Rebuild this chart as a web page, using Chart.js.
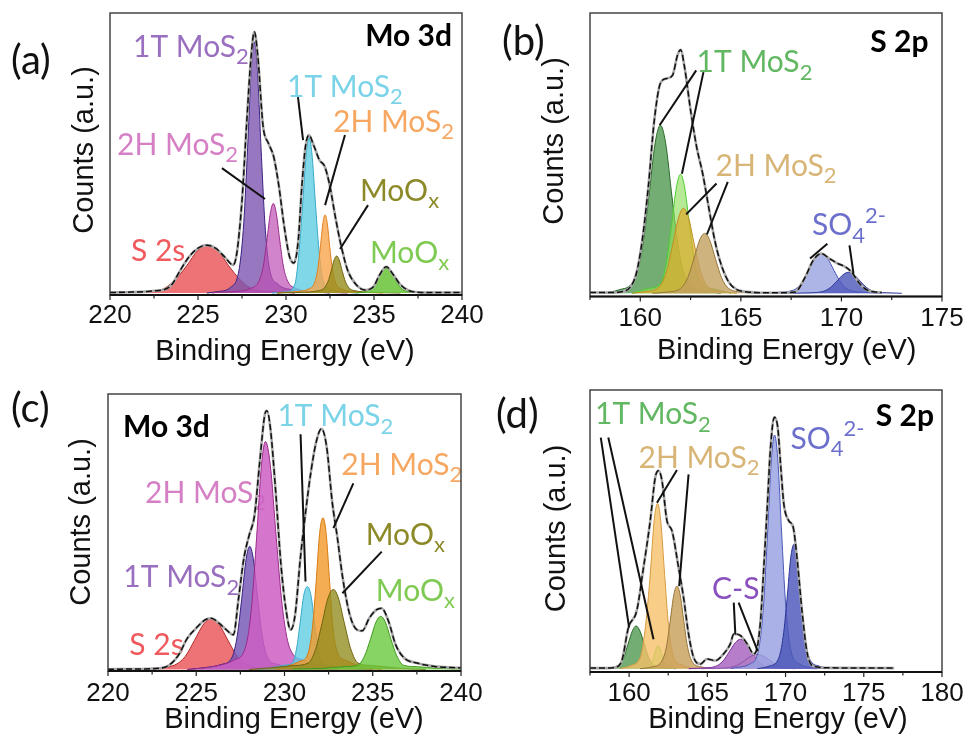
<!DOCTYPE html>
<html>
<head>
<meta charset="utf-8">
<script src="https://cdn.jsdelivr.net/npm/chart.js@4.4.0/dist/chart.umd.min.js"></script>
<style>
  html, body { margin: 0; padding: 0; background: #fff; overflow: hidden; }
  body { width: 963px; height: 744px; position: relative; }
  canvas { position: absolute; }
</style>
</head>
<body>
<canvas id="pa" width="520" height="372" style="left:0;top:0;width:520px;height:372px"></canvas>
<canvas id="pb" width="500" height="372" style="left:480px;top:0;width:500px;height:372px"></canvas>
<canvas id="pc" width="520" height="372" style="left:0;top:372px;width:520px;height:372px"></canvas>
<canvas id="pd" width="500" height="372" style="left:480px;top:372px;width:500px;height:372px"></canvas>
<script>
// ---- data: [binding energy (eV), counts (a.u.)] ----

// (a) Mo 3d
const a_fit = [[220,0.2],[221,0.3],[222,0.5],[222.5,0.8],[223,1.1],[223.5,2.9],[224,8.2],[224.5,13],[225,16],[225.5,17.1],[226,16],[226.5,13],[227,10],[227.2,14],[227.5,33],[227.75,59],[228,83],[228.2,93.3],[228.4,84.4],[228.7,59.4],[229,53.5],[229.3,48.7],[229.6,38],[229.9,23.7],[230.2,13],[230.45,10.7],[230.7,19],[230.9,38],[231.1,52],[231.3,56.4],[231.6,52.3],[231.9,47.5],[232.2,45.2],[232.5,38],[232.8,27.3],[233.1,17.8],[233.5,8.2],[234,2.9],[234.5,1.1],[235,2.5],[235.3,6.3],[235.7,9.4],[236.1,6.5],[236.5,3],[237,0.8],[237.5,0.3],[238,0.2],[240,0.2]];
const a_S2s = [[220.5,0],[221.2,0.3],[222.85,1.1],[223.65,4.4],[224.35,9.7],[225.0,15.3],[225.55,17.1],[226.1,15.3],[226.75,9.7],[227.45,4.4],[228.25,1.1],[229.9,0.3],[230.5,0]];
const a_1T_52 = [[225.5,0],[226.1,0.5],[226.84,2],[227.35,9],[227.6,25.1],[227.82,52],[228.03,80.7],[228.2,89.7],[228.37,80.7],[228.58,52],[228.8,25.1],[229.05,9],[229.56,3.1],[230.3,1.2],[231.6,0.4],[232.5,0]];
const a_2H_52 = [[225.8,0],[226.0,0.2],[227.23,0.6],[227.97,1.6],[228.46,4.2],[228.71,9.6],[228.91,18.6],[229.12,28.8],[229.28,32],[229.44,28.8],[229.65,18.6],[229.85,9.6],[230.1,4.2],[230.59,1.6],[231.33,0.6],[232.56,0.2],[233.5,0]];
const a_1T_32 = [[229.2,0],[230.03,0.5],[230.51,3.3],[230.75,15.5],[230.95,32.2],[231.15,50],[231.31,55.5],[231.47,50],[231.67,32.2],[231.87,15.5],[232.11,4.5],[232.59,1.2],[233.31,0.4],[234,0]];
const a_2H_32 = [[229.5,0],[229.82,0.2],[230.72,0.6],[231.26,1.4],[231.62,3.6],[231.8,8.4],[231.95,16.2],[232.1,25.1],[232.22,27.9],[232.34,25.1],[232.49,16.2],[232.64,8.4],[232.82,3.6],[233.18,1.4],[233.72,0.6],[234.62,0.2],[235.5,0]];
const a_MoOx1 = [[229.5,0],[230.0,0.1],[231.08,0.3],[231.73,0.7],[232.16,1.7],[232.38,4.0],[232.56,7.7],[232.74,11.9],[232.88,13.2],[233.02,11.9],[233.2,7.7],[233.38,4.0],[233.6,1.7],[234.03,0.7],[234.68,0.3],[235.76,0.1],[236.5,0]];
const a_MoOx2 = [[234.0,0],[234.6,0.7],[234.93,2.3],[235.2,5.1],[235.48,8.0],[235.7,8.9],[235.92,8.0],[236.2,5.1],[236.47,2.3],[236.8,0.7],[237.46,0.2],[238.2,0]];

// (b) S 2p
const b_fit = [[157.5,0.3],[158.5,0.3],[159,0.5],[159.5,2.2],[159.8,7],[160.1,19],[160.4,38],[160.7,62],[161,75],[161.3,76.7],[161.6,77.8],[161.85,85],[162,87],[162.2,80.8],[162.5,65.4],[162.8,52.3],[163.1,42.8],[163.4,30.8],[163.7,19],[164,10.7],[164.4,4],[164.8,1.3],[165.3,0.5],[166,0.2],[167,0.2],[167.7,0.5],[168.2,5.8],[168.6,11.8],[169,14.2],[169.4,12.4],[169.8,10.7],[170.2,9.4],[170.5,7.6],[170.9,3.5],[171.3,1.1],[171.8,0.4],[172,0.3]];
const b_1T_a = [[158.2,0],[158.92,1.2],[159.7,4.8],[160.09,15.6],[160.42,34.2],[160.74,53.7],[161.0,60],[161.26,53.7],[161.58,34.2],[161.91,15.6],[162.3,4.8],[163.08,1.2],[164,0]];
const b_1T_b = [[159.6,0],[160.4,1.7],[161.0,3.4],[161.3,11],[161.55,24.2],[161.8,38],[162.0,42.5],[162.2,38],[162.45,24.2],[162.7,11],[163.0,3.4],[163.6,1.7],[164.5,0]];
const b_2H_a = [[159.6,0],[160.23,0.6],[160.95,2.4],[161.31,7.9],[161.61,17.3],[161.91,27.2],[162.15,30.4],[162.39,27.2],[162.69,17.3],[162.99,7.9],[163.35,2.4],[164.07,0.6],[164.8,0]];
const b_2H_b = [[160.6,0],[161.28,0.4],[162.0,1.7],[162.36,5.6],[162.66,12.2],[162.96,19.2],[163.2,21.4],[163.44,19.2],[163.74,12.2],[164.04,5.6],[164.4,1.7],[165.12,0.4],[165.8,0]];
const b_SO4_a = [[166.5,0],[166.76,0.3],[167.6,1.1],[168.02,3.7],[168.37,8.2],[168.72,12.8],[169.0,14.3],[169.28,12.8],[169.63,8.2],[169.98,3.7],[170.4,1.1],[171.24,0.3],[172,0]];
const b_SO4_b = [[167.6,0],[168.27,0.15],[169.05,0.6],[169.44,2.0],[169.77,4.3],[170.09,6.7],[170.35,7.5],[170.61,6.7],[170.94,4.3],[171.26,2.0],[171.65,0.6],[172.43,0.15],[173,0]];

// (c) Mo 3d
const c_fit = [[220,0.1],[222,0.2],[223,0.5],[223.5,1.7],[224,5.2],[224.5,11.2],[225,14.8],[225.5,17.7],[225.85,18.3],[226.3,16.5],[226.7,14.2],[227.1,12.4],[227.4,25.5],[227.7,39.8],[228,48],[228.3,55],[228.6,74.3],[228.9,91.5],[229,92.4],[229.2,86.2],[229.5,63.6],[229.8,37.4],[230.1,20.7],[230.35,14.2],[230.6,19.5],[230.9,39.8],[231.2,56.4],[231.5,70.7],[231.8,81.4],[232.1,86],[232.4,79],[232.7,60],[233,46.9],[233.3,32.6],[233.7,19.5],[234.1,14.2],[234.4,13.8],[234.8,18.3],[235.2,21.3],[235.5,21.9],[235.9,17.1],[236.3,8.8],[236.8,4],[237.5,2.3],[238.5,1.1],[239.5,0.7],[240,0.6]];
const c_S2s = [[221.3,0],[222.49,0.4],[223.75,1.5],[224.38,4.7],[224.9,10.4],[225.43,16.3],[225.85,18.2],[226.27,16.3],[226.8,10.4],[227.32,4.7],[227.95,1.5],[229.21,0.4],[230.5,0]];
const c_1T_52 = [[224.5,0],[225.53,0.7],[226.43,1.8],[227.03,4.4],[227.33,12.3],[227.58,25.5],[227.83,39.6],[228.03,44],[228.23,39.6],[228.48,25.5],[228.73,12.3],[229.03,4.4],[229.63,1.8],[230.53,0.7],[232,0.2],[233,0]];
const c_2H_52 = [[224.5,0],[226.1,1.2],[227.12,3.3],[227.8,8.1],[228.14,22.8],[228.42,47.2],[228.7,73.3],[228.92,81.4],[229.19,73.3],[229.53,47.2],[229.87,22.8],[230.27,8.1],[231.08,3.3],[232.32,1.2],[234,0.3],[235,0]];
const c_1T_32 = [[228.5,0],[229.25,0.6],[229.97,1.5],[230.45,2.4],[230.69,7.7],[230.89,16.9],[231.09,26.5],[231.3,29.6],[231.5,26.5],[231.7,16.9],[231.9,7.7],[232.1,2.4],[232.53,1.5],[233.25,0.6],[234.5,0]];
const c_2H_32 = [[229.5,0],[230.15,1.1],[230.87,2.9],[231.3,5.2],[231.57,14.1],[231.79,31],[231.99,48.6],[232.18,54.2],[232.36,48.6],[232.56,31],[232.76,14.1],[233.05,5.4],[233.5,3.2],[234.2,1.4],[235.5,0]];
const c_MoOx1 = [[228,0],[229.25,0.6],[230.51,1.4],[231.35,2.3],[231.77,7.4],[232.12,16.3],[232.47,25.6],[232.77,28.6],[233.05,25.6],[233.4,16.3],[233.75,7.4],[234.17,2.3],[235.0,1.4],[236.25,0.6],[238,0]];
const c_MoOx2 = [[230.45,0.2],[232.2,0.4],[233.37,1.0],[234.15,1.5],[234.54,4.9],[234.87,10.8],[235.19,17],[235.45,19],[235.71,17],[236.03,10.8],[236.36,4.9],[236.75,1.5],[237.53,1.0],[238.7,0.4],[240,0.2]];

// (d) S 2p
const d_fit = [[157.5,0.2],[158.5,0.2],[159,0.35],[159.5,2.2],[159.96,14.5],[160.49,20.4],[160.92,35.5],[161.35,51.9],[161.67,67.1],[161.88,69.5],[162.1,66],[162.42,51.9],[162.74,48.4],[163.16,35.5],[163.48,25],[163.8,12.2],[164.12,4],[164.55,1.6],[164.98,3.4],[165.51,2.8],[166.04,5.2],[166.47,8.7],[166.69,12.2],[167.12,11.6],[167.55,8.7],[167.97,5.2],[168.19,7.5],[168.4,16.8],[168.61,35.5],[168.83,56.6],[169.04,77.6],[169.29,88.2],[169.5,84.7],[169.68,71.8],[169.89,57.8],[170.21,51.9],[170.49,49.6],[170.75,37.9],[171.07,19.2],[171.39,5.2],[171.82,0.8],[172.88,0.3],[176.94,0.2]];
const d_1T_a = [[158.0,0],[158.61,0.3],[159.3,1.2],[159.65,3.9],[159.93,8.6],[160.22,13.4],[160.45,15],[160.68,13.4],[160.97,8.6],[161.25,3.9],[161.6,1.2],[162.29,0.3],[163,0]];
const d_1T_b = [[160.8,0],[160.97,0.2],[161.3,0.6],[161.47,2.1],[161.6,4.6],[161.74,7.2],[161.85,8],[161.96,7.2],[162.1,4.6],[162.24,2.1],[162.4,0.6],[162.73,0.2],[162.9,0]];
const d_2H_a = [[159.4,0],[160.15,1.2],[160.75,4.6],[161.05,15.1],[161.35,33],[161.6,51.9],[161.82,58],[162.02,51.9],[162.27,33],[162.52,15.1],[162.82,4.6],[163.4,1.2],[164.1,0]];
const d_2H_b = [[160.7,0],[161.45,0.6],[162.05,2.3],[162.38,7.5],[162.62,16.5],[162.86,26],[163.06,29],[163.26,26],[163.5,16.5],[163.74,7.5],[164.05,2.3],[164.65,0.6],[165.4,0]];
const d_CS_a = [[163.8,0],[164.55,0.2],[165.52,0.8],[166.0,2.7],[166.4,5.9],[166.8,9.2],[167.12,10.3],[167.44,9.2],[167.84,5.9],[168.24,2.7],[168.72,0.8],[169.7,0.2],[170.6,0]];
const d_CS_b = [[164.6,0],[165.32,0.1],[166.4,0.4],[166.94,1.3],[167.39,2.9],[167.84,4.5],[168.2,5],[168.56,4.5],[169.01,2.9],[169.46,1.3],[170.0,0.4],[171.08,0.1],[172,0]];
const d_SO4_a = [[166.5,0],[166.8,0.4],[167.7,1.6],[168.3,7.4],[168.6,23],[168.85,47.6],[169.1,73.8],[169.3,82],[169.5,73.8],[169.75,47.6],[170.0,23],[170.3,7.4],[170.9,1.6],[171.8,0.4],[172.5,0]];
const d_SO4_b = [[168.2,0],[168.95,0.9],[169.55,3.5],[169.85,11.3],[170.1,24.8],[170.33,38.9],[170.53,43.6],[170.73,38.9],[170.98,24.8],[171.23,11.3],[171.53,3.5],[172.15,0.9],[172.9,0]];

// axis ranges [min, max] and labelled tick spacing
const xRangeMo = [220, 240];
const xRangeS_b = [157.5, 175];
const xRangeS_d = [157.5, 180];
const xStep = 2.5;
const xLabelEvery = 5;
const xTitle = 'Binding Energy (eV)';
const yTitle = 'Counts (a.u.)';

const FONT_TXT = 'Lato, "Open Sans", sans-serif';
const FONT_AX = '"Liberation Sans", Arial, sans-serif';

// label text: "_x" = subscript char, "^..." = superscript rest
function drawRich(ctx, x, y, text, size, color, align, bold) {
  const parts = [];
  let cur = '';
  for (let i = 0; i < text.length; i++) {
    const ch = text[i];
    if (ch === '_') { if (cur) parts.push({ t: cur, k: 0 }); cur = ''; parts.push({ t: text[i + 1], k: 1 }); i++; continue; }
    if (ch === '^') { if (cur) parts.push({ t: cur, k: 0 }); cur = ''; parts.push({ t: text.slice(i + 1), k: 2 }); break; }
    cur += ch;
  }
  if (cur) parts.push({ t: cur, k: 0 });
  const w = bold ? 'bold ' : '';
  const fontFor = p => p.k === 0 ? `${w}${size}px ${FONT_TXT}` : `${w}${Math.round(size * 0.72)}px ${FONT_TXT}`;
  let total = 0;
  parts.forEach(p => { ctx.font = fontFor(p); p.w = ctx.measureText(p.t).width; total += p.w; });
  let cx = align === 'right' ? x - total : x;
  ctx.fillStyle = color;
  ctx.textBaseline = 'alphabetic';
  ctx.textAlign = 'left';
  parts.forEach(p => {
    ctx.font = fontFor(p);
    const dy = p.k === 1 ? size * 0.24 : p.k === 2 ? -size * 0.42 : 0;
    ctx.fillText(p.t, cx, y + dy);
    cx += p.w;
  });
}

const isMajor = v => Math.round(v * 10) % (xLabelEvery * 10) === 0;

const annot = {
  id: 'annot',
  beforeDatasetsDraw(chart, args, opts) {
    const ctx = chart.ctx, xs = chart.scales.x, ys = chart.scales.y;
    ctx.save();
    (opts.labels || []).forEach(l => {
      drawRich(ctx, xs.getPixelForValue(l.x), ys.getPixelForValue(l.y), l.t, l.size || 30, l.c, l.align, l.bold);
    });
    ctx.restore();
  },
  afterDatasetsDraw(chart, args, opts) {
    const ctx = chart.ctx, xs = chart.scales.x, ys = chart.scales.y, a = chart.chartArea;
    ctx.save();
    ctx.strokeStyle = '#111';
    ctx.lineWidth = 2;
    (opts.lines || []).forEach(s => {
      ctx.beginPath();
      ctx.moveTo(xs.getPixelForValue(s[0]), ys.getPixelForValue(s[1]));
      ctx.lineTo(xs.getPixelForValue(s[2]), ys.getPixelForValue(s[3]));
      ctx.stroke();
    });
    // frame
    ctx.strokeStyle = '#444';
    ctx.lineWidth = 1.5;
    ctx.strokeRect(a.left, a.top, a.right - a.left, a.bottom - a.top);
    ctx.strokeStyle = '#111';
    ctx.lineWidth = 2.2;
    ctx.beginPath(); ctx.moveTo(a.left, a.bottom); ctx.lineTo(a.right, a.bottom); ctx.stroke();
    ctx.restore();
  },
  afterDraw(chart, args, opts) {
    const ctx = chart.ctx, xs = chart.scales.x, a = chart.chartArea;
    ctx.save();
    // outward ticks and tick labels from the x scale
    ctx.strokeStyle = '#222';
    ctx.lineWidth = 1.2;
    ctx.fillStyle = '#111';
    ctx.font = `26px ${FONT_AX}`;
    ctx.textAlign = 'center';
    ctx.textBaseline = 'middle';
    xs.ticks.forEach(t => {
      const px = xs.getPixelForValue(t.value);
      const major = isMajor(t.value);
      ctx.beginPath(); ctx.moveTo(px, a.bottom); ctx.lineTo(px, a.bottom + (major ? 5 : 3.5)); ctx.stroke();
      if (major) ctx.fillText(String(t.value), px, opts.tickY);
    });
    // axis titles
    ctx.font = `29px ${FONT_AX}`;
    ctx.fillText(xTitle, opts.xt[0], opts.xt[1]);
    ctx.translate(opts.yt[0], opts.yt[1]);
    ctx.rotate(-Math.PI / 2);
    ctx.fillText(yTitle, 0, 0);
    ctx.setTransform(1, 0, 0, 1, 0, 0);
    // panel letter
    ctx.font = `40px ${FONT_TXT}`;
    ctx.textAlign = 'left';
    ctx.fillText(opts.letter.t, opts.letter.x, opts.letter.y);
    ctx.restore();
  }
};

function series(data, fill, border, width) {
  return {
    data: data.map(p => ({ x: p[0], y: p[1] })),
    backgroundColor: fill,
    borderColor: border,
    borderWidth: width || 1,
    fill: fill ? 'origin' : false,
    pointRadius: 0,
    cubicInterpolationMode: 'monotone'
  };
}

function fitSeries(data) {
  const raw = series(data, null, '#a8a8a8', 2.6);
  const fit = series(data, null, '#111', 1.5);
  fit.borderDash = [6, 3];
  return [fit, raw];
}

function makeChart(id, g) {
  return new Chart(document.getElementById(id), {
    type: 'line',
    data: { datasets: fitSeries(g.fit).concat(g.comps) },
    plugins: [annot],
    options: {
      responsive: false,
      animation: false,
      events: [],
      layout: { padding: { left: 0, top: g.plot[1], right: g.size[0] - g.plot[2], bottom: 0 } },
      scales: {
        x: {
          type: 'linear',
          min: g.xr[0], max: g.xr[1],
          afterFit(s) { s.height = g.size[1] - g.plot[3]; s.paddingLeft = 0; s.paddingRight = 0; },
          grid: { display: false, drawTicks: false },
          border: { display: false },
          ticks: { stepSize: xStep, autoSkip: false, display: false }
        },
        y: {
          min: g.yr[0], max: g.yr[1],
          afterFit(s) { s.width = g.plot[0]; },
          grid: { display: false, drawTicks: false },
          border: { display: false },
          ticks: { display: false }
        }
      },
      plugins: {
        legend: { display: false },
        tooltip: { enabled: false },
        annot: { labels: g.labels, lines: g.lines, letter: g.letter, tickY: g.tickY, xt: g.xt, yt: g.yt }
      }
    }
  });
}

makeChart('pa', {
  size: [520, 372], plot: [110, 13, 462, 295], xr: xRangeMo, yr: [-0.7, 100],
  tickY: 315.5, xt: [285, 351.7], yt: [85, 150],
  fit: a_fit,
  comps: [
    series(a_MoOx2, 'rgba(105,195,55,0.85)', '#3f9a1f'),
    series(a_MoOx1, 'rgba(150,140,25,0.8)', '#6f6410'),
    series(a_2H_32, 'rgba(247,165,75,0.8)', '#e08020'),
    series(a_1T_32, 'rgba(95,205,225,0.8)', '#38a8c8'),
    series(a_2H_52, 'rgba(190,80,180,0.7)', '#9a2a8a'),
    series(a_1T_52, 'rgba(125,85,175,0.8)', '#3a2280'),
    series(a_S2s, 'rgba(235,90,95,0.85)', '#b02a2a')
  ],
  labels: [
    { x: 221.31, y: 84.3, t: '1T MoS_2', c: '#9a6fbf' },
    { x: 220.4, y: 49.3, t: '2H MoS_2', c: '#d57fc5' },
    { x: 230.06, y: 70, t: '1T MoS_2', c: '#7bd3e8' },
    { x: 232.67, y: 57.5, t: '2H MoS_2', c: '#f6a862' },
    { x: 234.2, y: 32.9, t: 'MoO_x', c: '#8c8a28' },
    { x: 234.77, y: 10.7, t: 'MoO_x', c: '#7fca52' },
    { x: 221.19, y: 11.4, t: 'S 2s', c: '#f05a5e' },
    { x: 239.43, y: 88.2, t: 'Mo 3d', c: '#000', align: 'right', bold: true }
  ],
  lines: [[226.36, 44.6, 228.81, 33.6], [230.68, 70, 230.97, 54.6], [233.35, 56.4, 232.22, 31.4], [234.66, 31.4, 233.07, 15.7]],
  letter: { t: '(a)', x: 11, y: 61 }
});

makeChart('pb', {
  size: [500, 372], plot: [110, 13, 462, 296.5], xr: xRangeS_b, yr: [-1.14, 100.1],
  tickY: 319.2, xt: [306.7, 350.8], yt: [75, 141],
  fit: b_fit,
  comps: [
    series(b_SO4_b, 'rgba(75,85,185,0.8)', '#2c3694'),
    series(b_SO4_a, 'rgba(145,155,222,0.75)', '#4a58b8'),
    series(b_2H_b, 'rgba(195,160,95,0.8)', '#96763a'),
    series(b_2H_a, 'rgba(222,172,45,0.72)', '#c09020'),
    series(b_1T_b, 'rgba(145,222,95,0.65)', '#4ccc30'),
    series(b_1T_a, 'rgba(70,145,70,0.75)', '#2a6a2a')
  ],
  labels: [
    { x: 162.8, y: 78.9, t: '1T MoS_2', c: '#62b862' },
    { x: 163.74, y: 41.8, t: '2H MoS_2', c: '#d8b577' },
    { x: 168.54, y: 20.7, t: 'SO_4^2-', c: '#6c70cc' },
    { x: 174.33, y: 86.1, t: 'S 2p', c: '#000', align: 'right', bold: true }
  ],
  lines: [[162.78, 79.6, 160.96, 60.0], [163.14, 79.0, 162.07, 42.7], [163.79, 39.2, 162.28, 28.2], [164.35, 39.8, 163.31, 21.0], [169.3, 17.7, 168.44, 12.4], [170.4, 17.1, 170.6, 7.0]],
  letter: { t: '(b)', x: 22, y: 42 }
});

makeChart('pc', {
  size: [520, 372], plot: [108, 22, 461, 299], xr: xRangeMo, yr: [-0.54, 98.4],
  tickY: 322.2, xt: [294, 348], yt: [81.7, 150],
  fit: c_fit,
  comps: [
    series(c_MoOx2, 'rgba(105,200,60,0.8)', '#3f9a1f'),
    series(c_MoOx1, 'rgba(145,140,30,0.78)', '#6f6410'),
    series(c_2H_32, 'rgba(242,155,45,0.82)', '#d87a10'),
    series(c_1T_32, 'rgba(95,205,225,0.8)', '#38a8c8'),
    series(c_2H_52, 'rgba(205,95,195,0.85)', '#9a2a8a'),
    series(c_1T_52, 'rgba(115,85,180,0.82)', '#3a2280'),
    series(c_S2s, 'rgba(235,90,95,0.85)', '#b02a2a')
  ],
  labels: [
    { x: 220.85, y: 83.2, t: 'Mo 3d', c: '#000', bold: true },
    { x: 229.6, y: 86.8, t: '1T MoS_2', c: '#7bd3e8' },
    { x: 222.1, y: 59.4, t: '2H MoS_2', c: '#d57fc5' },
    { x: 233.22, y: 69.5, t: '2H MoS_2', c: '#f6a862' },
    { x: 234.6, y: 44.5, t: 'MoO_x', c: '#8c8a28' },
    { x: 235.17, y: 24.5, t: 'MoO_x', c: '#7fca52' },
    { x: 220.87, y: 29.3, t: '1T MoS_2', c: '#9a6fbf' },
    { x: 221.21, y: 5.25, t: 'S 2s', c: '#f05a5e' }
  ],
  lines: [[230.91, 84, 231.19, 31.4], [233.9, 66.5, 232.77, 50.5], [235.51, 42.1, 233.28, 27.25]],
  letter: { t: '(c)', x: 11, y: 37 }
});

makeChart('pd', {
  size: [500, 372], plot: [110, 18, 462, 300], xr: xRangeS_d, yr: [-1.16, 97.8],
  tickY: 322.2, xt: [298, 348], yt: [76.7, 156.5],
  fit: d_fit,
  comps: [
    series(d_SO4_b, 'rgba(75,85,185,0.82)', '#2c3694'),
    series(d_SO4_a, 'rgba(150,160,225,0.82)', '#4a58b8'),
    series(d_CS_b, 'rgba(175,125,195,0.6)', '#8a50a8'),
    series(d_CS_a, 'rgba(150,70,180,0.7)', '#7a2a9a'),
    series(d_2H_b, 'rgba(200,160,90,0.82)', '#96763a'),
    series(d_2H_a, 'rgba(245,192,105,0.8)', '#d89a40'),
    series(d_1T_b, 'rgba(125,230,85,0.6)', '#48d830'),
    series(d_1T_a, 'rgba(75,150,75,0.78)', '#2a6a2a')
  ],
  labels: [
    { x: 157.82, y: 85.7, t: '1T MoS_2', c: '#62b862' },
    { x: 160.6, y: 70.5, t: '2H MoS_2', c: '#d8b577' },
    { x: 165.3, y: 24.3, t: 'C-S', c: '#8a50bf' },
    { x: 170.32, y: 77.2, t: 'SO_4^2-', c: '#6c70cc' },
    { x: 179.49, y: 85.2, t: 'S 2p', c: '#000', align: 'right', bold: true }
  ],
  lines: [[158.19, 81.1, 160.0, 14.4], [158.67, 81.1, 161.56, 10.3], [163.06, 69.7, 161.78, 58.2], [163.8, 68.2, 163.2, 29], [166.69, 23.2, 166.79, 12], [167.0, 23.2, 168.22, 6.2]],
  letter: { t: '(d)', x: 16, y: 43 }
});
</script>
</body>
</html>
